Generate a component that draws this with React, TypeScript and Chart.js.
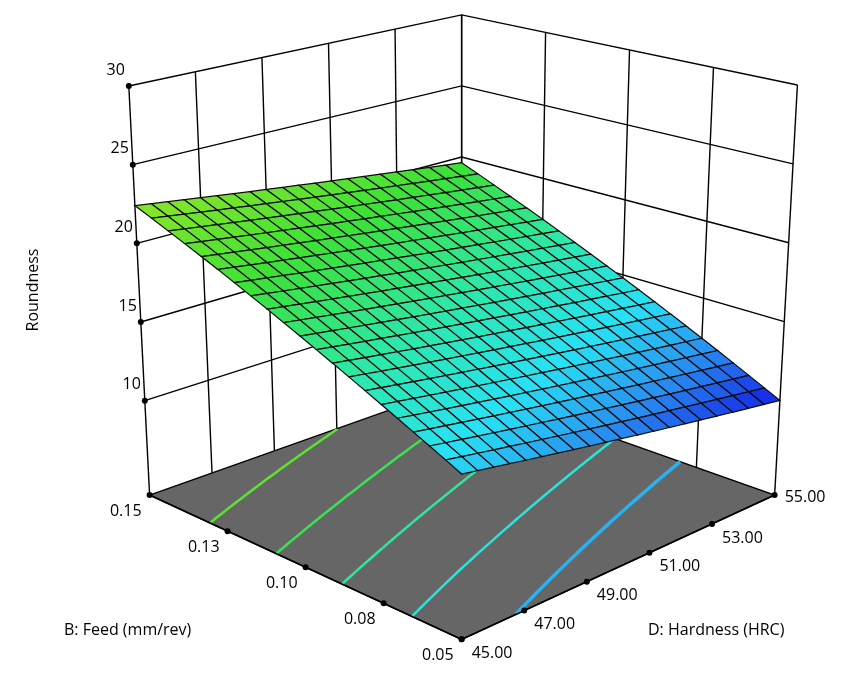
import { useEffect, useRef } from "react";
import { Chart, registerables } from "chart.js";

Chart.register(...registerables);

// axis ticks
const feedTicks = [0.05, 0.075, 0.1, 0.125, 0.15];
const feedLabels = ["0.05", "0.08", "0.10", "0.13", "0.15"];
const hardTicks = [45, 47, 49, 51, 53, 55];
const hardLabels = ["45.00", "47.00", "49.00", "51.00", "53.00", "55.00"];
const zTicks = [10, 15, 20, 25, 30];

// roundness read at feed (rows) x hardness (cols)
const roundF005 = [13.5, 12.8, 12.1, 11.4, 10.7, 10.0];
const roundF075 = [15.7, 15.04, 14.38, 13.72, 13.06, 12.4];
const roundF100 = [17.95, 17.32, 16.69, 16.06, 15.43, 14.8];
const roundF125 = [20.2, 19.6, 19.0, 18.4, 17.8, 17.2];
const roundF150 = [22.4, 21.84, 21.28, 20.72, 20.16, 19.6];
const roundRows = [roundF005, roundF075, roundF100, roundF125, roundF150];

// floor contour levels
const contourLevels = [12.9, 14.9, 16.9, 18.8, 20.7];

const Z_MIN = 4;
const Z_MAX = 30;
const W = 845;
const H = 674;

// box corners on screen: A(f.15,h45) B(f.15,h55) C(f.05,h55) D(f.05,h45)
const floorPts = [[147, 497], [462, 385], [778, 497], [462, 643]];
const topPts = [[126, 83], [462, 11], [801, 82], [462, 185]];

function proj(f: number, h: number, z: number) {
  const u = (0.15 - f) / 0.1;
  const v = (h - 45) / 10;
  const t = (z - Z_MIN) / (Z_MAX - Z_MIN);
  const bl = (q: number[][]) => {
    const [A, B, C, D] = q;
    const x = A[0] * (1 - u) * (1 - v) + B[0] * (1 - u) * v + C[0] * u * v + D[0] * u * (1 - v);
    const y = A[1] * (1 - u) * (1 - v) + B[1] * (1 - u) * v + C[1] * u * v + D[1] * u * (1 - v);
    return [x, y];
  };
  const p0 = bl(floorPts);
  const p1 = bl(topPts);
  return { x: p0[0] + (p1[0] - p0[0]) * t, y: p0[1] + (p1[1] - p0[1]) * t };
}

function roundAt(f: number, h: number) {
  const fi = Math.max(0, Math.min(3, Math.floor((f - 0.05) / 0.025 + 1e-9)));
  const hi = Math.max(0, Math.min(4, Math.floor((h - 45) / 2 + 1e-9)));
  const a = (f - feedTicks[fi]) / 0.025;
  const b = (h - hardTicks[hi]) / 2;
  const r0 = roundRows[fi], r1 = roundRows[fi + 1];
  return r0[hi] * (1 - a) * (1 - b) + r0[hi + 1] * (1 - a) * b + r1[hi] * a * (1 - b) + r1[hi + 1] * a * b;
}

const stops: [number, number[]][] = [
  [10, [20, 30, 230]],
  [12, [40, 140, 240]],
  [14, [40, 225, 245]],
  [16.5, [45, 232, 170]],
  [19.5, [60, 225, 55]],
  [22.5, [140, 230, 40]],
];
function colorAt(z: number) {
  if (z <= stops[0][0]) return `rgb(${stops[0][1].join(",")})`;
  for (let i = 1; i < stops.length; i++) {
    if (z <= stops[i][0]) {
      const t = (z - stops[i - 1][0]) / (stops[i][0] - stops[i - 1][0]);
      const c = stops[i - 1][1].map((v, k) => Math.round(v + (stops[i][1][k] - v) * t));
      return `rgb(${c.join(",")})`;
    }
  }
  return `rgb(${stops[stops.length - 1][1].join(",")})`;
}

const line = (pts: { x: number; y: number }[], color = "#000", width = 1.4) => ({
  data: pts,
  showLine: true,
  borderColor: color,
  borderWidth: width,
  pointRadius: 0,
  fill: false,
});

function buildDatasets() {
  const ds: any[] = [];
  // floor
  ds.push({
    ...line([proj(0.15, 45, Z_MIN), proj(0.15, 55, Z_MIN), proj(0.05, 55, Z_MIN), proj(0.05, 45, Z_MIN), proj(0.15, 45, Z_MIN)], "#000", 1.4),
    fill: "shape",
    backgroundColor: "#666666",
  });
  // contours
  contourLevels.forEach((L) => {
    const pts: { x: number; y: number }[] = [];
    for (let i = 0; i <= 80; i++) {
      const h = 45 + (i / 80) * 10;
      if (roundAt(0.05, h) > L || roundAt(0.15, h) < L) continue;
      let lo = 0.05, hi = 0.15;
      for (let k = 0; k < 40; k++) {
        const m = (lo + hi) / 2;
        if (roundAt(m, h) < L) lo = m; else hi = m;
      }
      pts.push(proj(lo, h, Z_MIN));
    }
    ds.push(line(pts, colorAt(L), L < 13.5 ? 3.5 : 2.5));
  });
  // walls: left wall f=0.15, right wall h=55
  zTicks.forEach((z) => {
    ds.push(line([proj(0.15, 45, z), proj(0.15, 55, z), proj(0.05, 55, z)]));
  });
  hardTicks.forEach((h) => ds.push(line([proj(0.15, h, Z_MIN), proj(0.15, h, Z_MAX)])));
  feedTicks.forEach((f) => ds.push(line([proj(f, 55, Z_MIN), proj(f, 55, Z_MAX)])));
  // front floor edges
  ds.push(line([proj(0.15, 45, Z_MIN), proj(0.05, 45, Z_MIN), proj(0.05, 55, Z_MIN)], "#000", 1.6));
  // tick dots
  const dots = [
    ...zTicks.map((z) => proj(0.15, 45, z)),
    ...feedTicks.map((f) => proj(f, 45, Z_MIN)),
    ...hardTicks.map((h) => proj(0.05, h, Z_MIN)),
  ];
  ds.push({ data: dots, showLine: false, pointRadius: 3, backgroundColor: "#000", borderWidth: 0 });
  // surface cells, far to near
  const N = 20;
  const cells: { d: number; pts: { x: number; y: number }[]; z: number }[] = [];
  for (let i = 0; i < N; i++) {
    for (let j = 0; j < N; j++) {
      const f0 = 0.15 - (i / N) * 0.1, f1 = 0.15 - ((i + 1) / N) * 0.1;
      const h0 = 55 - (j / N) * 10, h1 = 55 - ((j + 1) / N) * 10;
      const corners = [[f0, h0], [f0, h1], [f1, h1], [f1, h0], [f0, h0]];
      const pts = corners.map(([f, h]) => proj(f, h, roundAt(f, h)));
      const z = (roundAt(f0, h0) + roundAt(f0, h1) + roundAt(f1, h1) + roundAt(f1, h0)) / 4;
      cells.push({ d: i + j, pts, z });
    }
  }
  cells.sort((a, b) => a.d - b.d);
  cells.forEach((c) =>
    ds.push({ ...line(c.pts, "#0a0a0a", 1.2), fill: "shape", backgroundColor: colorAt(c.z) })
  );
  ds.forEach((d, i) => (d.order = -i));
  return ds;
}

const labelPlugin = {
  id: "labels3d",
  afterDraw(chart: any) {
    const { ctx } = chart;
    const xs = chart.scales.x, ys = chart.scales.y;
    const px = (p: { x: number; y: number }) => [xs.getPixelForValue(p.x), ys.getPixelForValue(p.y)];
    ctx.save();
    ctx.fillStyle = "#000";
    ctx.font = "16px 'Open Sans', sans-serif";
    ctx.textBaseline = "middle";
    ctx.textAlign = "right";
    zTicks.forEach((z) => {
      const [x, y] = px(proj(0.15, 45, z));
      ctx.fillText(String(z), x - 4, y - 16);
    });
    feedTicks.forEach((f, i) => {
      const [x, y] = px(proj(f, 45, Z_MIN));
      ctx.fillText(feedLabels[i], x - 8, y + 16);
    });
    ctx.textAlign = "left";
    hardTicks.forEach((h, i) => {
      const [x, y] = px(proj(0.05, h, Z_MIN));
      ctx.fillText(hardLabels[i], x + 10, y + (i === 5 ? 2 : 14));
    });
    ctx.fillText("B: Feed (mm/rev)", 64, 630);
    ctx.fillText("D: Hardness (HRC)", 648, 630);
    ctx.translate(33, 290);
    ctx.rotate(-Math.PI / 2);
    ctx.textAlign = "center";
    ctx.fillText("Roundness", 0, 0);
    ctx.restore();
  },
};

export default function App() {
  const ref = useRef<HTMLCanvasElement>(null);
  useEffect(() => {
    document.body.style.margin = "0";
    if (!ref.current) return;
    const chart = new Chart(ref.current, {
      type: "scatter",
      data: { datasets: buildDatasets() },
      options: {
        responsive: false,
        animation: false,
        layout: { padding: 0 },
        plugins: { legend: { display: false }, tooltip: { enabled: false } },
        scales: {
          x: { type: "linear", min: 0, max: W, display: false },
          y: { type: "linear", min: 0, max: H, reverse: true, display: false },
        },
      },
      plugins: [labelPlugin],
    });
    return () => chart.destroy();
  }, []);
  return (
    <div style={{ width: W, height: H, background: "#fff" }}>
      <canvas ref={ref} width={W} height={H} />
    </div>
  );
}
